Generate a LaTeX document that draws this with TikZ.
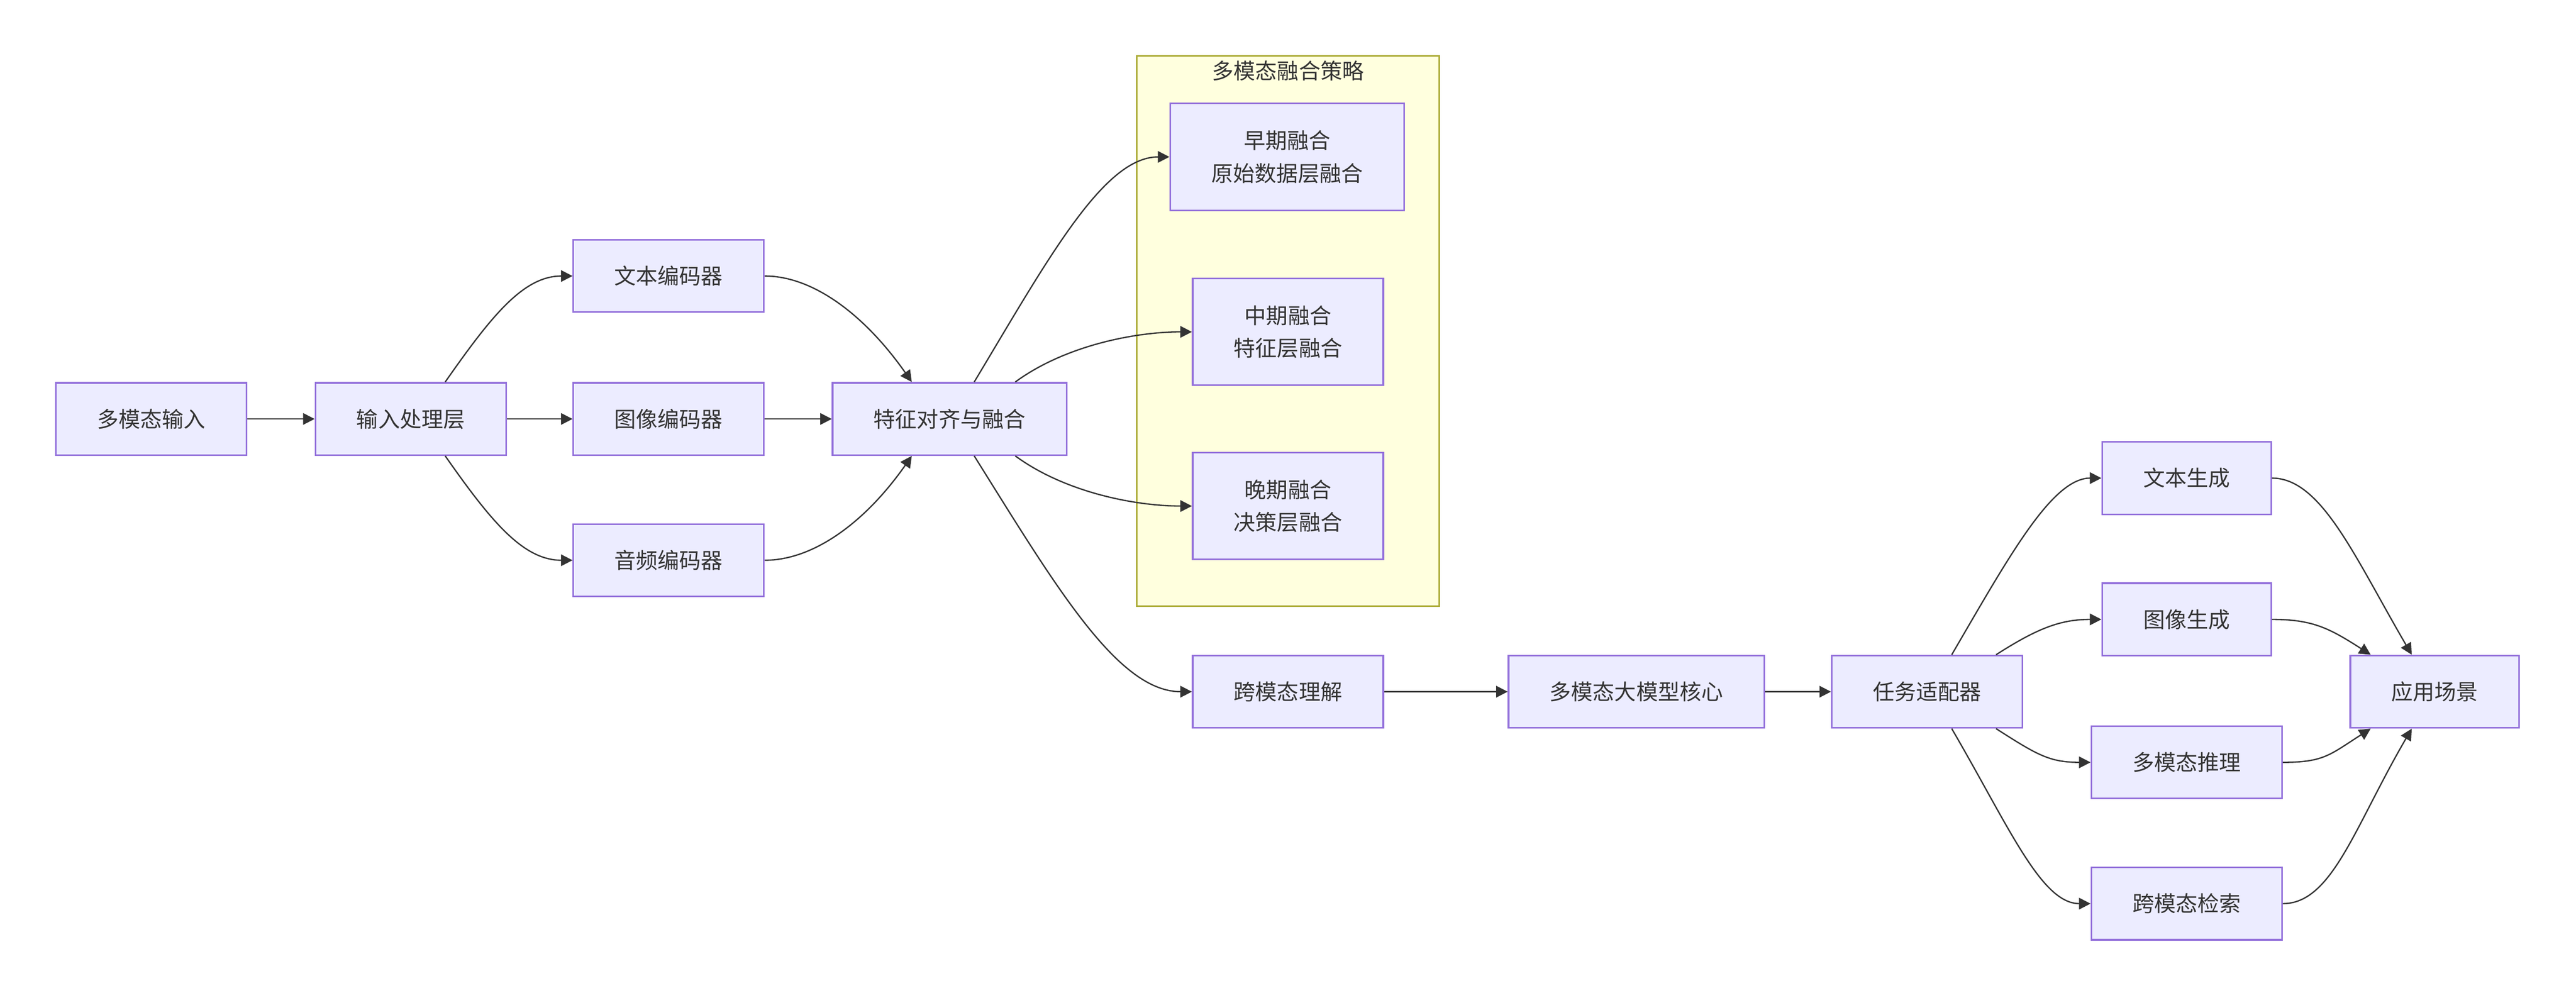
\documentclass[tikz,border=0pt]{standalone}
\usepackage{fontspec}
\newfontfamily\cjk{Noto Sans CJK SC}
\usetikzlibrary{arrows.meta}
\definecolor{boxfill}{HTML}{ECECFF}
\definecolor{boxline}{HTML}{9370DB}
\definecolor{grpfill}{HTML}{FFFFDE}
\definecolor{grpline}{HTML}{AAAA33}
\definecolor{ink}{HTML}{333333}
\tikzset{
  box/.style={draw=boxline, fill=boxfill, line width=1pt, inner xsep=25pt,
    minimum height=44pt, align=center, text=ink,
    font=\cjk\fontsize{13.2}{20}\selectfont},
  tall/.style={minimum height=65pt},
  grp/.style={draw=grpline, fill=grpfill, line width=1pt,
    minimum width=184pt, minimum height=335pt},
  flow/.style={draw=ink, line width=0.8pt, -{Triangle[length=7pt,width=7pt]}}
}
\begin{document}
\begin{tikzpicture}[x=1pt,y=-1pt]
\useasboundingbox (0,0) rectangle (1568,607.2);
\node [grp] (strategy) at (784,201.5) {};
\node [text=ink, font=\cjk\fontsize{13.2}{20}\selectfont] (strategytitle) at (784,43) {多模态融合策略};
\node [box] (inp) at (92,255) {多模态输入};
\node [box] (proc) at (250,255) {输入处理层};
\node [box] (txtenc) at (407,168) {文本编码器};
\node [box] (imgenc) at (407,255) {图像编码器};
\node [box] (audenc) at (407,341) {音频编码器};
\node [box] (fuse) at (578,255) {特征对齐与融合};
\node [box,tall] (early) at (783.5,95.5) {早期融合\\原始数据层融合};
\node [box,tall] (mid) at (784,202) {中期融合\\特征层融合};
\node [box,tall] (late) at (784,308) {晚期融合\\决策层融合};
\node [box] (cross) at (784,421) {跨模态理解};
\node [box] (core) at (996,421) {多模态大模型核心};
\node [box] (task) at (1173,421) {任务适配器};
\node [box] (txtgen) at (1331,291) {文本生成};
\node [box] (imggen) at (1331,377) {图像生成};
\node [box] (reason) at (1331,464) {多模态推理};
\node [box] (retr) at (1331,550) {跨模态检索};
\node [box] (app) at (1482,421) {应用场景};
\draw [flow] (inp) -- (proc);
\draw [flow] ([xshift=21pt]proc.north) .. controls +(28,-40) and +(-30,0) .. (txtenc.west);
\draw [flow] (proc) -- (imgenc);
\draw [flow] ([xshift=21pt]proc.south) .. controls +(28,40) and +(-30,0) .. (audenc.west);
\draw [flow] (txtenc.east) .. controls +(30,0) and +(-28,-40) .. ([xshift=-23pt]fuse.north);
\draw [flow] (imgenc) -- (fuse);
\draw [flow] (audenc.east) .. controls +(30,0) and +(-28,40) .. ([xshift=-23pt]fuse.south);
\draw [flow] ([xshift=15pt]fuse.north) .. controls +(45,-75) and +(-40,0) .. (early.west);
\draw [flow] ([xshift=40pt]fuse.north) .. controls +(30,-22) and +(-35,0) .. (mid.west);
\draw [flow] ([xshift=40pt]fuse.south) .. controls +(30,22) and +(-35,0) .. (late.west);
\draw [flow] ([xshift=15pt]fuse.south) .. controls +(50,80) and +(-45,0) .. (cross.west);
\draw [flow] (cross) -- (core);
\draw [flow] (core) -- (task);
\draw [flow] ([xshift=15pt]task.north) .. controls +(35,-60) and +(-30,0) .. (txtgen.west);
\draw [flow] ([xshift=42pt]task.north) .. controls +(25,-16) and +(-25,0) .. (imggen.west);
\draw [flow] ([xshift=42pt]task.south) .. controls +(25,16) and +(-25,0) .. (reason.west);
\draw [flow] ([xshift=15pt]task.south) .. controls +(35,60) and +(-30,0) .. (retr.west);
\draw [flow] (txtgen.east) .. controls +(30,0) and +(-35,-60) .. ([xshift=-14pt]app.north);
\draw [flow] (imggen.east) .. controls +(25,0) and +(-25,-16) .. ([xshift=-39pt]app.north);
\draw [flow] (reason.east) .. controls +(25,0) and +(-25,16) .. ([xshift=-39pt]app.south);
\draw [flow] (retr.east) .. controls +(30,0) and +(-35,60) .. ([xshift=-14pt]app.south);
\end{tikzpicture}
\end{document}
